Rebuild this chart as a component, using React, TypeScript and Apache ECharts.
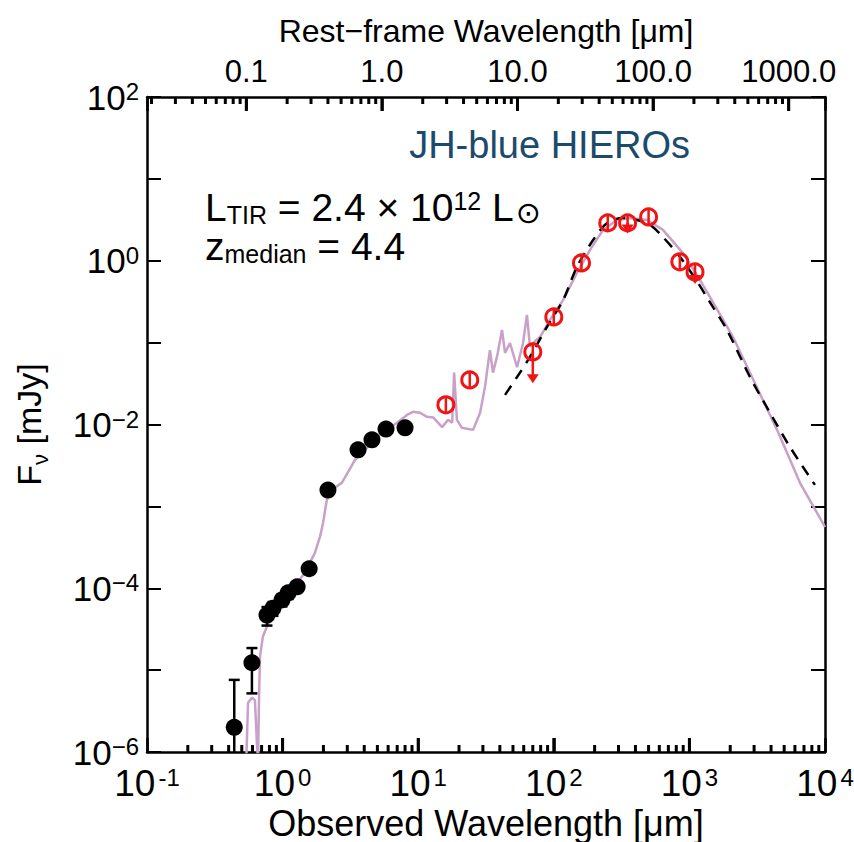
import React, { useEffect, useRef } from 'react';
import * as echarts from 'echarts';

const Z_MEDIAN = 4.4;
const X_MIN = 0.1;
const X_MAX = 1e4;
const Y_MIN = 1e-6;
const Y_MAX = 1e2;

// Best-fit SED model (observed wavelength, um ; flux, mJy)
const modelWave = [0.537, 0.556, 0.594, 0.625, 0.647, 0.659, 0.67, 0.681, 0.716, 0.767, 0.835, 0.957, 1.17, 1.46, 1.73, 1.89, 1.99, 2.06, 2.12, 2.31, 2.74, 3.42, 4.19, 4.97, 5.89, 6.98, 8.27, 9.16, 10.3, 11.6, 12.9, 15.0, 16.6, 17.8, 18.4, 19.3, 21.0, 25.4, 28.6, 31.1, 33.8, 35.6, 38.1, 41.5, 43.7, 47.5, 53.6, 59.3, 63.4, 66.7, 70.3, 79.1, 93.8, 117, 148, 185, 231, 292, 365, 487, 638, 897, 1198, 1419, 2099, 4430, 6540, 10000];
const modelFlux = [6e-7, 4.0e-6, 4.6e-6, 4.3e-6, 1.23e-6, 8e-7, 4.3e-6, 1.45e-5, 2.6e-5, 3.4e-5, 4.5e-5, 6.6e-5, 9.5e-5, 1.55e-4, 2.7e-4, 4.3e-4, 6.3e-4, 9.1e-4, 1.2e-3, 1.6e-3, 1.95e-3, 3.7e-3, 5.2e-3, 7.1e-3, 8.6e-3, 1.05e-2, 1.31e-2, 1.43e-2, 1.39e-2, 1.24e-2, 1.22e-2, 9.3e-3, 1.14e-2, 1.05e-2, 4.3e-2, 1.14e-2, 9.1e-3, 8.6e-3, 1.39e-2, 2.9e-2, 8.1e-2, 4.3e-2, 6.7e-2, 0.143, 7.5e-2, 9.9e-2, 5.0e-2, 9.9e-2, 0.218, 8.9e-2, 9.9e-2, 0.117, 0.19, 0.33, 0.71, 1.36, 2.38, 3.15, 3.33, 3.15, 2.38, 1.24, 0.58, 0.36, 0.117, 8.6e-3, 1.94e-3, 5.6e-4];

// Dust-only model (dashed)
const dustWave = [43.7, 53.6, 66.7, 89.1, 117, 148, 195, 247, 324, 411, 512, 638, 853, 1138, 1419, 1892, 2798, 3930, 5520, 8430];
const dustFlux = [2.3e-2, 3.8e-2, 6.7e-2, 0.156, 0.33, 0.84, 1.79, 2.9, 3.33, 3.15, 2.74, 1.95, 1.11, 0.56, 0.31, 0.143, 3.8e-2, 1.39e-2, 5.3e-3, 1.83e-3];

// Optical / NIR photometry (filled black)
const optWave = [0.44, 0.594, 0.767, 0.849, 0.99, 1.10, 1.28, 1.57, 2.16, 3.60, 4.56, 5.79, 8.0];
const optFlux = [2.0e-6, 1.23e-5, 4.7e-5, 5.7e-5, 7.2e-5, 8.8e-5, 1.04e-4, 1.73e-4, 1.58e-3, 4.9e-3, 6.5e-3, 8.8e-3, 9.1e-3];
const optLo = [5e-8, 5.2e-6, 3.5e-5, 4.6e-5, 6.0e-5, 7.4e-5, 9.0e-5, 1.5e-4, 1.4e-3, 4.5e-3, 6.0e-3, 8.0e-3, 8.3e-3];
const optHi = [7.6e-6, 1.86e-5, 5.9e-5, 6.8e-5, 8.4e-5, 1.02e-4, 1.18e-4, 1.96e-4, 1.76e-3, 5.3e-3, 7.0e-3, 9.6e-3, 9.9e-3];

// MIR / FIR / submm photometry (open red)
const firWave = [16, 24, 70, 100, 160, 250, 350, 500, 850, 1100];
const firFlux = [1.74e-2, 3.5e-2, 7.7e-2, 0.206, 0.94, 2.9, 2.9, 3.43, 0.97, 0.73];
const firLo = [1.37e-2, 2.76e-2, 6.1e-2, 0.162, 0.74, 2.28, 2.28, 2.70, 0.76, 0.57];
const firHi = [2.21e-2, 4.45e-2, 9.8e-2, 0.262, 1.19, 3.68, 3.68, 4.36, 1.23, 0.93];

// Upper-limit arrows
const limitWave = [70, 350, 1100];
const limitFlux = [7.7e-2, 2.9, 0.73];
const limitTip = [3.2e-2, 2.15, 0.52];

// Tick positions for the observed and rest-frame axes
const majorObs = [1, 10, 100, 1000];
const majorRest = [0.1, 1, 10, 100, 1000];
const minorObs = [0.2, 0.3, 0.4, 0.5, 0.6, 0.7, 0.8, 0.9, 2, 3, 4, 5, 6, 7, 8, 9, 20, 30, 40, 50, 60, 70, 80, 90, 200, 300, 400, 500, 600, 700, 800, 900, 2000, 3000, 4000, 5000, 6000, 7000, 8000, 9000];
const minorRest = [0.02, 0.03, 0.04, 0.05, 0.06, 0.07, 0.08, 0.09, 0.2, 0.3, 0.4, 0.5, 0.6, 0.7, 0.8, 0.9, 2, 3, 4, 5, 6, 7, 8, 9, 20, 30, 40, 50, 60, 70, 80, 90, 200, 300, 400, 500, 600, 700, 800, 900];

const FONT = '"Liberation Sans", Arial, Helvetica, "DejaVu Sans", sans-serif';
const PINK = '#c8a0c8';
const RED = '#f01414';

function isDecade(v: number): number | null {
  const l = Math.log10(v);
  const e = Math.round(l);
  return Math.abs(l - e) < 1e-6 ? e : null;
}

const supRich = (base: number, sup: number, gap: number) => ({
  b: { fontSize: base, fontFamily: FONT, color: '#000', lineHeight: base },
  s: { fontSize: sup, fontFamily: FONT, color: '#000', verticalAlign: 'top' as const, lineHeight: sup, padding: [0, 0, 0, gap] },
});

export default function App() {
  const ref = useRef<HTMLDivElement>(null);
  useEffect(() => {
    document.body.style.margin = '0';
    if (!ref.current) return;
    const chart = echarts.init(ref.current, undefined, { renderer: 'svg' });
    const restMin = X_MIN / (1 + Z_MEDIAN);
    const restMax = X_MAX / (1 + Z_MEDIAN);

    const errSeries = (w: number[], f: number[], lo: number[], hi: number[], color: string, cap: number, z: number) => ({
      type: 'custom',
      xAxisIndex: 0,
      yAxisIndex: 0,
      clip: true,
      silent: true,
      z,
      data: w.map((x, i) => [x, f[i], lo[i], hi[i]]),
      renderItem: (_p: any, api: any) => {
        const x = api.value(0);
        const a = api.coord([x, api.value(3)]);
        const b = api.coord([x, api.value(2)]);
        const children: any[] = [
          { type: 'line', shape: { x1: a[0], y1: a[1], x2: b[0], y2: b[1] }, style: { stroke: color, lineWidth: 2.5 } },
        ];
        if (cap > 0) {
          children.push({ type: 'line', shape: { x1: a[0] - cap / 2, y1: a[1], x2: a[0] + cap / 2, y2: a[1] }, style: { stroke: color, lineWidth: 2.5 } });
          children.push({ type: 'line', shape: { x1: b[0] - cap / 2, y1: b[1], x2: b[0] + cap / 2, y2: b[1] }, style: { stroke: color, lineWidth: 2.5 } });
        }
        return { type: 'group', children };
      },
    });

    // tick marks as a custom series (value, tick length in px) on a given x axis
    const tickSeries = (vals: number[], len: number, axisIndex: number, atTop: boolean) => ({
      type: 'custom',
      xAxisIndex: axisIndex,
      yAxisIndex: 0,
      clip: true,
      silent: true,
      z: 10,
      data: vals.map((v) => [v, atTop ? 50 : 2e-6, len]),
      renderItem: (params: any, api: any) => {
        const p = api.coord([api.value(0), api.value(1)]);
        const cs = params.coordSys;
        const l = api.value(2);
        const y = atTop ? cs.y : cs.y + cs.height - l;
        return {
          type: 'group',
          children: [{ type: 'rect', shape: { x: p[0] - 1.5, y, width: 3, height: l }, style: { fill: '#000' } }],
        };
      },
    });

    const textGraphics: any[] = [
      {
        id: 'title',
        type: 'text',
        right: 854 - 690,
        top: 126,
        style: { text: 'JH-blue HIEROs', fontSize: 38, fontFamily: FONT, fill: '#1c4a6b' },
      },
      {
        id: 'lum',
        type: 'text',
        left: 205,
        top: 188,
        style: {
          text: '{a|L}{s|TIR}{a| = 2.4 × 10}{p|12}{a| L}{o|⊙}\n{a|z}{s|median}{a| = 4.4}',
          rich: {
            a: { fontSize: 39, fontFamily: FONT, fill: '#000', lineHeight: 39 },
            s: { fontSize: 25, fontFamily: FONT, fill: '#000', verticalAlign: 'bottom', lineHeight: 12 },
            o: { fontSize: 30, fontFamily: FONT, fill: '#000', verticalAlign: 'bottom', lineHeight: 28, padding: [0, 0, 0, 2] },
            p: { fontSize: 25, fontFamily: FONT, fill: '#000', verticalAlign: 'top', lineHeight: 16 },
          },
        },
      },
    ];

    const option: any = {
      animation: false,
      backgroundColor: '#fff',
      grid: { left: 147, right: 29, top: 97, bottom: 90, show: false, containLabel: false, outerBoundsMode: 'none' },
      xAxis: [
        {
          type: 'log',
          logBase: 10,
          min: X_MIN,
          max: X_MAX,
          position: 'bottom',
          axisLine: { show: true, lineStyle: { color: '#000', width: 2.5 } },
          axisTick: { show: true, inside: true, length: 14, lineStyle: { color: '#000', width: 2.5 } },
          splitLine: { show: false },
          axisLabel: {
            margin: 13,
            formatter: (v: number) => {
              const e = isDecade(v);
              if (e === null) return '';
              return `{b|10}{s|${e < 0 ? '-' + Math.abs(e) : e}}`;
            },
            rich: supRich(37, 24, 3),
          },
          name: 'Observed Wavelength [μm]',
          nameLocation: 'middle',
          nameGap: 53,
          nameMoveOverlap: false,
          nameTextStyle: { fontSize: 36, fontFamily: FONT, color: '#000' },
        },
        {
          type: 'log',
          logBase: 10,
          min: restMin,
          max: restMax,
          position: 'top',
          axisLine: { show: true, lineStyle: { color: '#000', width: 2.5 } },
          axisTick: { show: true, inside: true, length: 14, lineStyle: { color: '#000', width: 2.5 } },
          splitLine: { show: false },
          axisLabel: {
            margin: 10,
            fontSize: 31,
            fontFamily: FONT,
            color: '#000',
            formatter: (v: number) => {
              const e = isDecade(v);
              if (e === null) return '';
              return Math.pow(10, e).toFixed(1);
            },
          },
          name: 'Rest−frame Wavelength [μm]',
          nameLocation: 'middle',
          nameGap: 50,
          nameMoveOverlap: false,
          nameTextStyle: { fontSize: 32, fontFamily: FONT, color: '#000' },
        },
      ],
      yAxis: [
        {
          type: 'log',
          logBase: 10,
          min: Y_MIN,
          max: Y_MAX,
          position: 'left',
          axisLine: { show: true, lineStyle: { color: '#000', width: 2.5 } },
          axisTick: { show: true, inside: true, length: 14, lineStyle: { color: '#000', width: 2 } },
          splitLine: { show: false },
          axisLabel: {
            margin: 8,
            formatter: (v: number) => {
              const e = isDecade(v);
              if (e === null || e % 2 !== 0) return '';
              return `{b|10}{s|${e < 0 ? '−' + Math.abs(e) : e}}`;
            },
            rich: supRich(35, 24, 0),
          },
          name: '{a|F}{s|ν}{a| [mJy]}',
          nameLocation: 'middle',
          nameGap: 96,
          nameRotate: 90,
          nameMoveOverlap: false,
          nameTextStyle: {
            rich: {
              a: { fontSize: 34, fontFamily: FONT, color: '#000', lineHeight: 44 },
              s: { fontSize: 22, fontFamily: FONT, color: '#000', verticalAlign: 'bottom', lineHeight: 22 },
            },
          },
        },
        {
          type: 'log',
          logBase: 10,
          min: Y_MIN,
          max: Y_MAX,
          position: 'right',
          axisLine: { show: true, lineStyle: { color: '#000', width: 2.5 } },
          axisTick: { show: true, inside: true, length: 14, lineStyle: { color: '#000', width: 2 } },
          axisLabel: { show: false },
          splitLine: { show: false },
        },
      ],
      graphic: textGraphics,
      series: [
        {
          type: 'line',
          xAxisIndex: 0,
          yAxisIndex: 0,
          data: modelWave.map((w, i) => [w, modelFlux[i]]),
          showSymbol: false,
          clip: true,
          z: 2,
          lineStyle: { color: PINK, width: 2.5 },
        },
        {
          type: 'line',
          xAxisIndex: 0,
          yAxisIndex: 0,
          data: dustWave.map((w, i) => [w, dustFlux[i]]),
          showSymbol: false,
          smooth: 0.3,
          clip: true,
          z: 3,
          lineStyle: { color: '#000', width: 2.5, type: [11, 8] },
        },
        errSeries(optWave, optFlux, optLo, optHi, '#000', 11, 4),
        {
          type: 'scatter',
          xAxisIndex: 0,
          yAxisIndex: 0,
          data: optWave.map((w, i) => [w, optFlux[i]]),
          symbol: 'circle',
          symbolSize: 17,
          z: 5,
          itemStyle: { color: '#000', opacity: 1 },
        },
        errSeries(firWave, firFlux, firLo, firHi, RED, 0, 6),
        {
          type: 'scatter',
          xAxisIndex: 0,
          yAxisIndex: 0,
          data: firWave.map((w, i) => [w, firFlux[i]]),
          symbol: 'circle',
          symbolSize: 16,
          z: 7,
          itemStyle: { color: 'rgba(255,255,255,0)', borderColor: RED, borderWidth: 3, opacity: 1 },
        },
        {
          type: 'custom',
          xAxisIndex: 0,
          yAxisIndex: 0,
          silent: true,
          z: 8,
          data: limitWave.map((w, i) => [w, limitFlux[i], limitTip[i]]),
          renderItem: (_p: any, api: any) => {
            const a = api.coord([api.value(0), api.value(1)]);
            const b = api.coord([api.value(0), api.value(2)]);
            return {
              type: 'group',
              children: [
                { type: 'line', shape: { x1: a[0], y1: a[1], x2: b[0], y2: b[1] - 6 }, style: { stroke: RED, lineWidth: 2.5 } },
                { type: 'polygon', shape: { points: [[b[0] - 6, b[1] - 9], [b[0] + 6, b[1] - 9], [b[0], b[1]]] }, style: { fill: RED } },
              ],
            };
          },
        },
        tickSeries(minorObs, 7, 0, false),
        tickSeries(minorRest.filter((v) => v > restMin && v < restMax), 7, 1, true),
        tickSeries(majorObs, 14, 0, false),
        tickSeries(majorRest, 14, 1, true),
      ],
    };
    chart.setOption(option);

    return () => chart.dispose();
  }, []);
  return <div ref={ref} style={{ width: 854, height: 842 }} />;
}
